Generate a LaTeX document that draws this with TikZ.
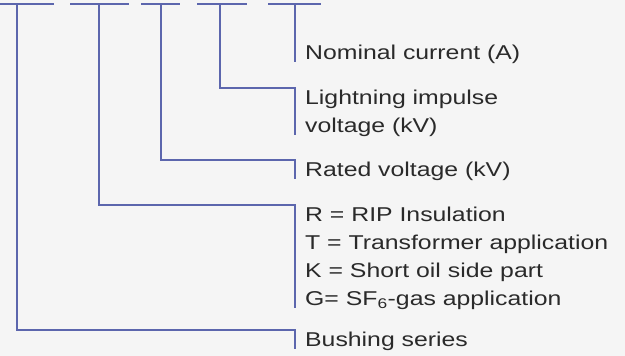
\documentclass[tikz,border=0pt]{standalone}
\usepackage{fontspec}
\setmainfont{Liberation Sans}[FakeStretch=1.24]
\usepackage{xcolor}
\usetikzlibrary{positioning}
\definecolor{leadblue}{HTML}{5C66AD}
\definecolor{pagegray}{HTML}{F5F5F5}
\definecolor{textgray}{HTML}{2A2A2A}

\begin{document}
\begin{tikzpicture}[
    x=1pt, y=-1pt,
    lead/.style={draw=leadblue, line width=1.3pt},
    codelabel/.style={anchor=north west, inner xsep=10pt, inner ysep=2pt, text depth=0pt, align=left, text=textgray, font=\fontsize{20}{28}\selectfont},
]
    % Page
    \fill[pagegray] (0,0) rectangle (625,356);
    \useasboundingbox (0,0) rectangle (625,356);

    % Code positions
    \foreach \a/\b in {0/54, 70/129, 141/180, 197/247, 268/321}
        \draw[lead] (\a,4) -- (\b,4);
    \coordinate (code1) at (17,4);
    \coordinate (code2) at (99,4);
    \coordinate (code3) at (161,4);
    \coordinate (code4) at (220,4);
    \coordinate (code5) at (295,4);

    % Labels
    \node[codelabel] (nominal) at (295,43) {Nominal current (A)};
    \node[codelabel] (impulse) at (295,88) {Lightning impulse\\voltage (kV)};
    \node[codelabel] (rated) at (295,160) {Rated voltage (kV)};
    \node[codelabel] (letters) at (295,205) {R = RIP Insulation\\T = Transformer application\\K = Short oil side part\\G= SF\textsubscript{6}-gas application};
    \node[codelabel] (series) at (295,330) {Bushing series};

    % Leads
    \draw[lead] (code5) -- (nominal.south west);
    \draw[lead] (code4) |- (impulse.north west) -- (impulse.south west);
    \draw[lead] (code3) |- (rated.north west) -- (rated.south west);
    \draw[lead] (code2) |- (letters.north west) -- (letters.south west);
    \draw[lead] (code1) |- (series.north west) -- (series.south west);
\end{tikzpicture}
\end{document}
